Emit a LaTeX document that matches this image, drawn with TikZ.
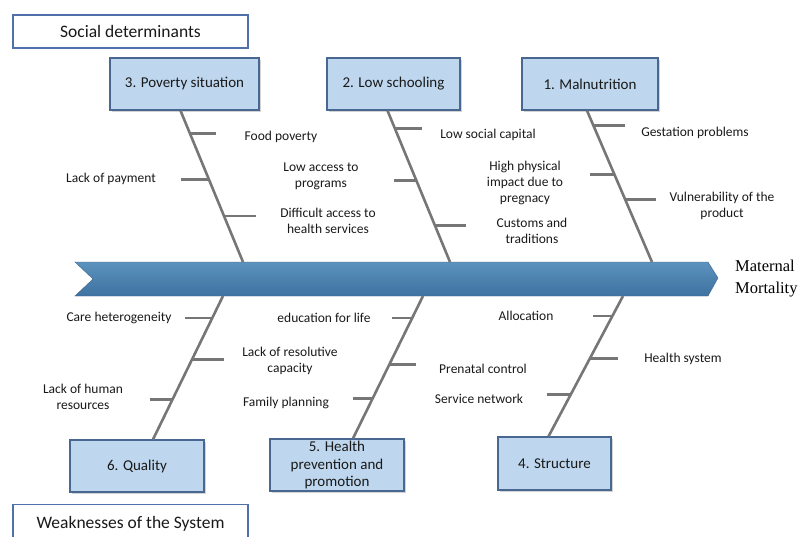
\documentclass[tikz,border=0pt]{standalone}
\usepackage{fontspec}
\setmainfont{Carlito}
\newfontfamily\effectfont{Liberation Serif}
\usepackage{tikz}
\usetikzlibrary{calc, shadows}
\definecolor{boneGray}{RGB}{118,118,118}
\definecolor{boxBlue}{RGB}{190,215,238}
\definecolor{boxLine}{RGB}{72,104,146}
\definecolor{groupLine}{RGB}{80,112,170}
\definecolor{spineTop}{RGB}{92,146,190}
\definecolor{spineBot}{RGB}{62,114,160}
\definecolor{spineLine}{RGB}{62,102,142}
\definecolor{inkDark}{RGB}{25,25,25}
\tikzset{
  cause/.style={draw=boxLine, line width=1.2pt, fill=boxBlue, minimum height=52pt, text=inkDark,
    font=\fontsize{15}{17}\selectfont, align=center,
    drop shadow={shadow xshift=1.5pt, shadow yshift=-1.5pt, opacity=.35}},
  group/.style={draw=groupLine, line width=1.2pt, fill=white, minimum width=235pt, minimum height=33pt,
    text=inkDark, font=\fontsize{17.5}{20}\selectfont},
  bone/.style={draw=boneGray, line width=2.6pt},
  tick/.style={draw=boneGray, line width=2.6pt},
  item/.style={font=\fontsize{13.5}{16}\selectfont, align=center, inner sep=0pt, text=inkDark},
}

\begin{document}
\begin{tikzpicture}[x=1pt, y=-1pt]
  \useasboundingbox (0,0) rectangle (799,536);

  \node[group] (soc) at (130.5,31.5) {Social determinants};
  \node[group, minimum height=38pt] (weak) at (130.5,523.5) {Weaknesses of the System};

  \node[cause, minimum width=149pt] (pov) at (184.5,84) {3. Poverty situation};
  \node[cause, minimum width=133pt] (school) at (393.5,84) {2. Low schooling};
  \node[cause, minimum width=136pt] (malnu) at (590,84) {1. Malnutrition};
  \node[cause, minimum width=134pt] (qual) at (137,466) {6. Quality};
  \node[cause, minimum width=134pt, inner sep=0pt, font=\fontsize{15}{17.5}\selectfont] (prev) at (337,465)
    {5. Health\\prevention and\\promotion};
  \node[cause, minimum width=113pt, minimum height=53pt] (struct) at (554.5,463.5) {4. Structure};

  % spine
  \path[draw=spineLine, top color=spineTop, bottom color=spineBot]
    (75,262) -- (708,262) -- (718,278) -- (708,296) -- (75,296) -- (93,279) -- cycle;
  \coordinate (s3) at (243,262);
  \coordinate (s2) at (450,262);
  \coordinate (s1) at (652,262);
  \coordinate (s6) at (223,296);
  \coordinate (s5) at (423,296);
  \coordinate (s4) at (623,296);
  \node[font=\effectfont\fontsize{16.5}{22}\selectfont, align=left, anchor=west, inner sep=0pt] (mm)
    at (735,279) {Maternal\\Mortality};

  % upper bones
  \draw[bone] ([xshift=-4pt]pov.south) -- (s3)
    coordinate[pos=.151] (t31) coordinate[pos=.454] (t32) coordinate[pos=.697] (t33);
  \draw[bone] ([xshift=-6pt]school.south) -- (s2)
    coordinate[pos=.118] (t21) coordinate[pos=.461] (t22) coordinate[pos=.757] (t23);
  \draw[bone] ([xshift=-3pt]malnu.south) -- (s1)
    coordinate[pos=.099] (t11) coordinate[pos=.421] (t12) coordinate[pos=.586] (t13);

  % lower bones
  \draw[bone] (s6) -- ([xshift=16pt]qual.north)
    coordinate[pos=.153] (t61) coordinate[pos=.444] (t62) coordinate[pos=.722] (t63);
  \draw[bone] (s5) -- ([xshift=16pt]prev.north)
    coordinate[pos=.154] (t51) coordinate[pos=.483] (t52) coordinate[pos=.72] (t53);
  \draw[bone] (s4) -- ([xshift=-6pt]struct.north)
    coordinate[pos=.142] (t41) coordinate[pos=.447] (t42) coordinate[pos=.702] (t43);

  \draw[tick] (t31) -- ++(26,0);
  \draw[tick] (t32) -- ++(-28,0);
  \draw[tick] (t33) -- ++(32,0);
  \draw[tick] (t21) -- ++(27,0);
  \draw[tick] (t22) -- ++(-22,0);
  \draw[tick] (t23) -- ++(31,0);
  \draw[tick] (t11) -- ++(32,0);
  \draw[tick] (t12) -- ++(-24,0);
  \draw[tick] (t13) -- ++(31,0);
  \draw[tick] (t61) -- ++(-27,0);
  \draw[tick] (t62) -- ++(32,0);
  \draw[tick] (t63) -- ++(-22,0);
  \draw[tick] (t51) -- ++(-20,0);
  \draw[tick] (t52) -- ++(27,0);
  \draw[tick] (t53) -- ++(-20,0);
  \draw[tick] (t41) -- ++(-19,0);
  \draw[tick] (t42) -- ++(28,0);
  \draw[tick] (t43) -- ++(-24,0);

  \node[item] (food) at (281,137) {Food poverty};
  \node[item] (pay) at (111,179) {Lack of payment};
  \node[item] (prog) at (321,176) {Low access to\\programs};
  \node[item] (hserv) at (328,221) {Difficult access to\\health services};
  \node[item] (capital) at (488,135) {Low social capital};
  \node[item] (impact) at (525,183) {High physical\\impact due to\\pregnacy};
  \node[item] (custom) at (532,231) {Customs and\\traditions};
  \node[item] (gest) at (695,133) {Gestation problems};
  \node[item] (vuln) at (722,206) {Vulnerability of the\\product};
  \node[item] (hetero) at (119,318) {Care heterogeneity};
  \node[item] (resol) at (290,361) {Lack of resolutive\\capacity};
  \node[item] (human) at (83,397) {Lack of human\\resources};
  \node[item] (edu) at (324,318) {education for life};
  \node[item] (prenat) at (483,369) {Prenatal control};
  \node[item] (family) at (286,403) {Family planning};
  \node[item] (alloc) at (526,316) {Allocation};
  \node[item] (hsys) at (683,359) {Health system};
  \node[item] (network) at (479,399) {Service network};
\end{tikzpicture}
\end{document}
